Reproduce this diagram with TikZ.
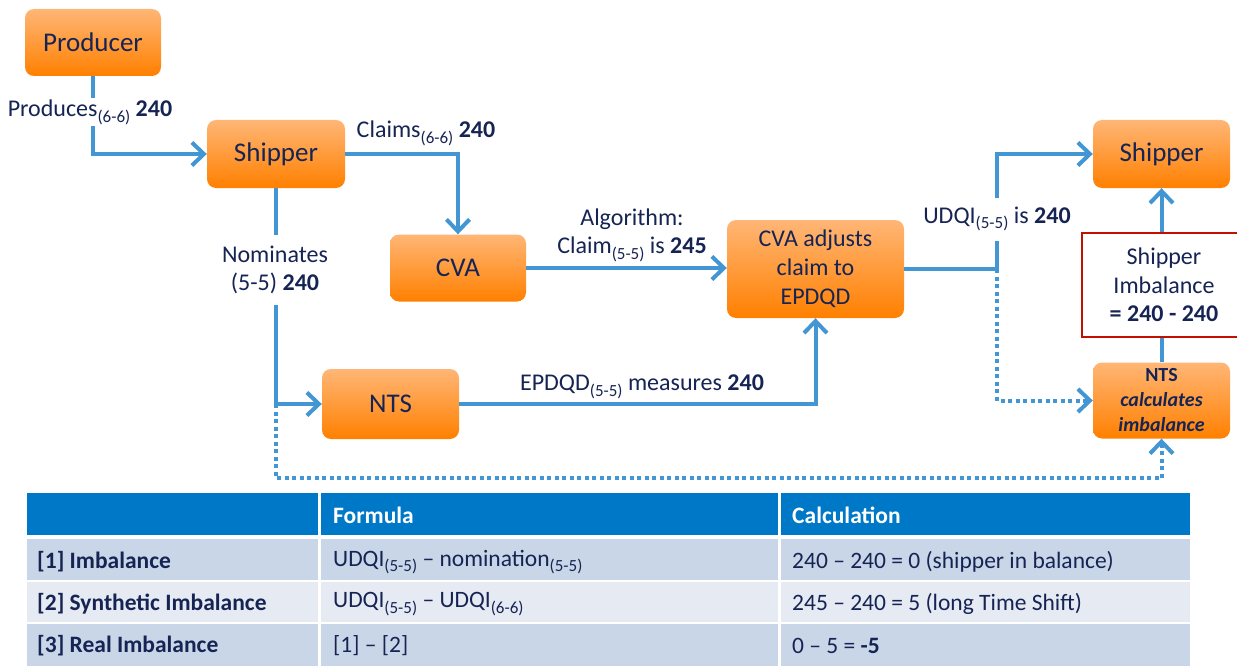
\documentclass[tikz,border=0pt]{standalone}
\usepackage{fontspec}
\setmainfont{Carlito}
\usetikzlibrary{arrows.meta}
\definecolor{navy}{RGB}{22,36,84}
\definecolor{lineblue}{RGB}{67,150,212}
\definecolor{orL}{RGB}{255,182,118}
\definecolor{orD}{RGB}{255,128,0}
\definecolor{hdr}{RGB}{0,120,200}
\definecolor{rowA}{RGB}{201,214,232}
\definecolor{rowB}{RGB}{230,234,243}
\definecolor{redb}{RGB}{192,16,0}
\newcommand\lowsub[1]{\raisebox{-0.5ex}{\fontsize{17}{17}\selectfont #1}}
\tikzset{
  obox/.style={rounded corners=9pt, top color=orL, bottom color=orD, minimum width=137pt,
    minimum height=68pt, text=navy, align=center, inner sep=0pt,
    font=\fontsize{27}{31}\selectfont},
  link/.style={draw=lineblue, line width=4pt, -{Straight Barb[length=12pt,width=23pt]}},
  dotlink/.style={draw=lineblue, line width=4pt, dash pattern=on 4pt off 3.5pt,
    -{Straight Barb[length=12pt,width=23pt]}},
  lbl/.style={text=navy, align=center, font=\fontsize{24}{28}\selectfont, inner sep=2pt},
  wlbl/.style={lbl, fill=white},
  tcell/.style={anchor=west, text=navy, font=\fontsize{23.5}{27}\selectfont, inner sep=0pt},
  thead/.style={anchor=west, text=white, font=\fontsize{23.5}{27}\selectfont\bfseries, inner sep=0pt},
}
\begin{document}
\begin{tikzpicture}[x=1pt,y=-1pt]
\path[use as bounding box] (0,0) rectangle (1237,666);
% boxes
\node[obox, minimum width=136pt, minimum height=67pt] (prod) at (93,42.5) {Producer};
\node[obox, minimum width=138pt] (ship1) at (276,154) {Shipper};
\node[obox, minimum width=136pt, minimum height=67pt] (cva) at (458,268) {CVA};
\node[obox, minimum width=177pt, minimum height=98pt, font=\fontsize{24}{29}\selectfont] (adj) at (815.5,269) {CVA adjusts\\claim to\\EPDQD};
\node[obox, minimum height=70pt] (nts) at (390.5,404) {NTS};
\node[obox] (ship2) at (1161.5,154) {Shipper};
\node[obox, minimum height=76pt, font=\fontsize{20}{25}\selectfont\bfseries] (calc) at (1161.5,400.5) {NTS\\\textit{calculates}\\\textit{imbalance}};
% connectors
\draw[link] (prod.south) |- (ship1.west);
\node[wlbl] (lprod) at (90,112) {Produces\lowsub{(6-6)} \textbf{240}};
\draw[link] (ship1.east) -| (cva.north);
\node[lbl] (lclaim) at (426,133) {Claims\lowsub{(6-6)} \textbf{240}};
\draw[link] (ship1.south) |- (nts.west);
\node[wlbl, minimum height=70pt] (lnom) at (275,270) {Nominates\\(5-5) \textbf{240}};
\draw[link] (cva.east) -- (cva.east -| adj.west);
\node[lbl] (lalg) at (632,235) {Algorithm:\\Claim\lowsub{(5-5)} is \textbf{245}};
\draw[link] (nts.east) -| (adj.south);
\node[lbl] (lepd) at (642,387) {EPDQD\lowsub{(5-5)} measures \textbf{240}};
\path (adj.east) ++(93,0) coordinate (j);
\draw[link] (adj.east) -- (j) |- (ship2.west);
\node[wlbl, minimum height=43pt] (ludq) at (997,219) {UDQI\lowsub{(5-5)} is \textbf{240}};
\draw[dotlink] (j) |- (calc.west);
\coordinate (k) at (ship1.south |- nts.west);
\draw[dotlink] (k) -- ++(0,74) -| (calc.south);
\draw[link] (calc.north) -- (ship2.south);
\node[draw=redb, line width=2pt, fill=white, anchor=west, minimum width=164pt, minimum height=104pt,
  text=navy, align=center, font=\fontsize{24}{28.5}\selectfont, inner sep=0pt] (imb) at (1081,285)
  {Shipper\\Imbalance\\\textbf{= 240 - 240}};
% table
\fill[hdr] (27,493) rectangle (318,535);
\fill[hdr] (321,493) rectangle (778,535);
\fill[hdr] (781,493) rectangle (1190,535);
\fill[rowA] (27,539) rectangle (318,580);
\fill[rowA] (321,539) rectangle (778,580);
\fill[rowA] (781,539) rectangle (1190,580);
\fill[rowB] (27,582) rectangle (318,622);
\fill[rowB] (321,582) rectangle (778,622);
\fill[rowB] (781,582) rectangle (1190,622);
\fill[rowA] (27,624) rectangle (318,666);
\fill[rowA] (321,624) rectangle (778,666);
\fill[rowA] (781,624) rectangle (1190,666);
\node[thead] (hf) at (333,515) {Formula};
\node[thead] (hc) at (792,515) {Calculation};
\node[tcell] (r1a) at (37,562) {\textbf{[1] Imbalance}};
\node[tcell] (r1b) at (333,562) {UDQI\lowsub{(5-5)} – nomination\lowsub{(5-5)}};
\node[tcell] (r1c) at (792,562) {240 – 240 = 0 (shipper in balance)};
\node[tcell] (r2a) at (37,604) {\textbf{[2] Synthetic Imbalance}};
\node[tcell] (r2b) at (333,604) {UDQI\lowsub{(5-5)} – UDQI\lowsub{(6-6)}};
\node[tcell] (r2c) at (792,604) {245 – 240 = 5 (long Time Shift)};
\node[tcell] (r3a) at (37,646) {\textbf{[3] Real Imbalance}};
\node[tcell] (r3b) at (333,646) {[1] – [2]};
\node[tcell] (r3c) at (792,646) {0 – 5 = \textbf{-5}};
\end{tikzpicture}
\end{document}
